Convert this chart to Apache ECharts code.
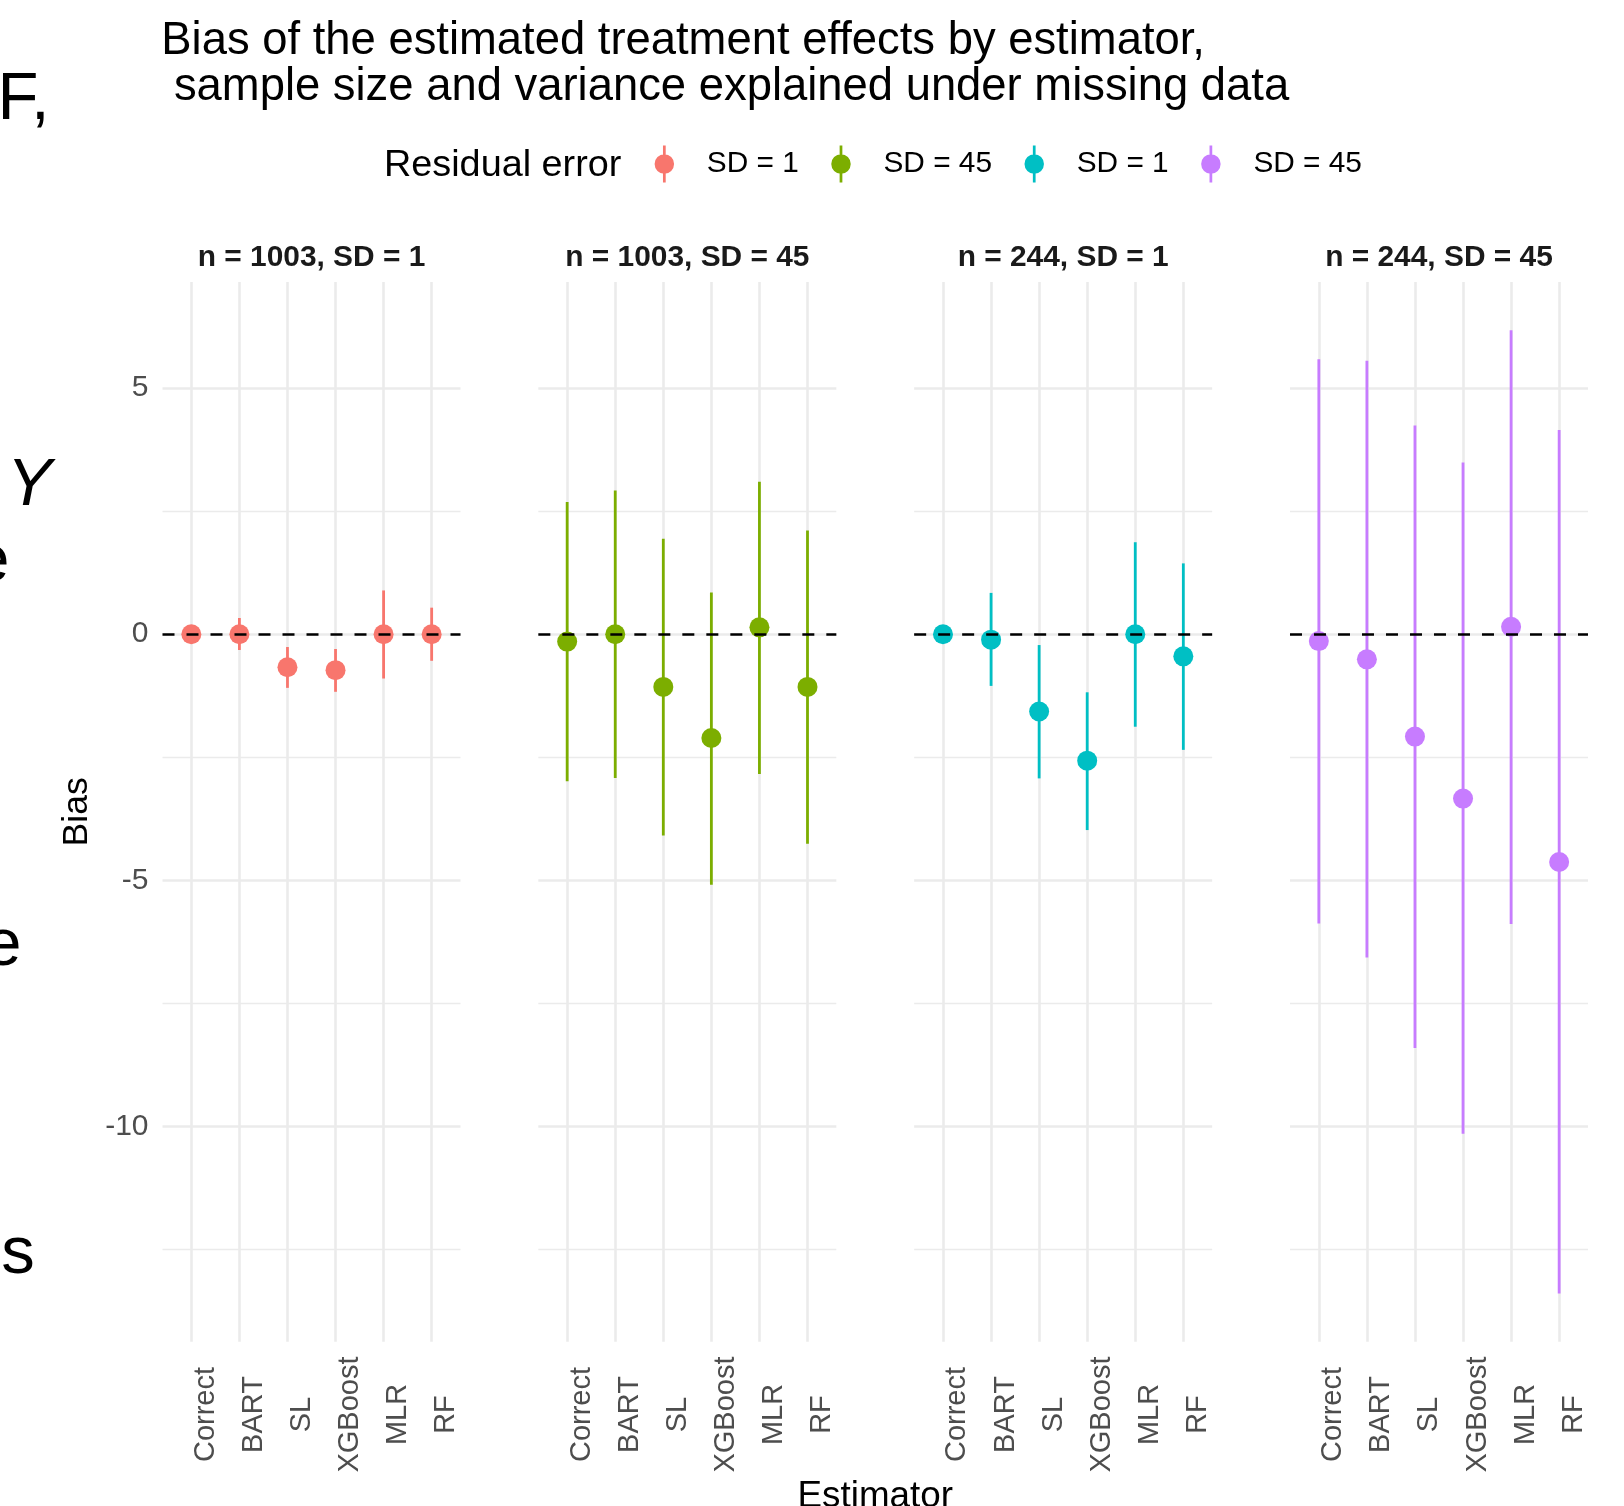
<!DOCTYPE html>
<html>
<head>
<meta charset="utf-8">
<script src="https://cdn.jsdelivr.net/npm/echarts@6/dist/echarts.min.js"></script>
<style>
html,body{margin:0;padding:0;background:#ffffff;}
#chart{width:1624px;height:1506px;}
</style>
</head>
<body>
<div id="chart"></div>
<script>
// ---------------- data ----------------
const estimators = ['Correct', 'BART', 'SL', 'XGBoost', 'MLR', 'RF'];
const panelTitles = ['n = 1003, SD = 1', 'n = 1003, SD = 45', 'n = 244, SD = 1', 'n = 244, SD = 45'];
const legendLabels = ['SD = 1', 'SD = 45', 'SD = 1', 'SD = 45'];
const legendTitle = 'Residual error';
const chartTitle = 'Bias of the estimated treatment effects by estimator,\n sample size and variance explained under missing data';
const xAxisTitle = 'Estimator';
const yAxisTitle = 'Bias';

const biasN1003Sd1  = [0.00, 0.00, -0.67, -0.73, 0.00, 0.00];
const lowerN1003Sd1 = [-0.03, -0.32, -1.09, -1.17, -0.90, -0.54];
const upperN1003Sd1 = [0.03, 0.33, -0.26, -0.30, 0.89, 0.54];

const biasN1003Sd45  = [-0.15, 0.00, -1.07, -2.11, 0.14, -1.07];
const lowerN1003Sd45 = [-2.99, -2.92, -4.09, -5.09, -2.84, -4.26];
const upperN1003Sd45 = [2.69, 2.92, 1.94, 0.85, 3.10, 2.11];

const biasN244Sd1  = [0.00, -0.11, -1.57, -2.57, 0.00, -0.45];
const lowerN244Sd1 = [-0.03, -1.05, -2.93, -3.98, -1.88, -2.35];
const upperN244Sd1 = [0.03, 0.84, -0.22, -1.18, 1.87, 1.44];

const biasN244Sd45  = [-0.14, -0.51, -2.08, -3.34, 0.15, -4.63];
const lowerN244Sd45 = [-5.88, -6.57, -8.41, -10.15, -5.89, -13.40];
const upperN244Sd45 = [5.59, 5.56, 4.24, 3.49, 6.18, 4.15];

const yTickValues = [-10, -5, 0, 5];
const yMinorValues = [-12.5, -7.5, -2.5, 2.5];
const referenceLine = 0;

// ---------------- styling / layout ----------------
const colors = ['#F8766D', '#7CAE00', '#00BFC4', '#C77CFF'];
const FONT = '"Liberation Sans", Arial, Helvetica, sans-serif';
const PANEL_LEFT0 = 162.5, PANEL_STEP = 375.83, PANEL_W = 298, PANEL_TOP = 282, PANEL_H = 1059.7;
const GRID_COLOR = '#EBEBEB';

const panels = [
  { bias: biasN1003Sd1, lower: lowerN1003Sd1, upper: upperN1003Sd1 },
  { bias: biasN1003Sd45, lower: lowerN1003Sd45, upper: upperN1003Sd45 },
  { bias: biasN244Sd1, lower: lowerN244Sd1, upper: upperN244Sd1 },
  { bias: biasN244Sd45, lower: lowerN244Sd45, upper: upperN244Sd45 }
];

// y range: data range expanded by 5% (ggplot default)
const allLow = Math.min.apply(null, panels.map(p => Math.min.apply(null, p.lower)));
const allHigh = Math.max.apply(null, panels.map(p => Math.max.apply(null, p.upper)));
const pad = 0.05 * (allHigh - allLow);
const yMin = allLow - pad, yMax = allHigh + pad;
// discrete x expansion (0.6 units each side)
const xMin = -0.6, xMax = estimators.length - 1 + 0.6;
const xIdx = estimators.map((_, i) => i);

const grids = [], xAxes = [], yAxes = [], series = [], graphics = [];

panels.forEach((p, i) => {
  const left = PANEL_LEFT0 + PANEL_STEP * i;
  grids.push({ left: left, top: PANEL_TOP, width: PANEL_W, height: PANEL_H, containLabel: false });
  xAxes.push({
    type: 'value', gridIndex: i, min: xMin, max: xMax,
    axisLine: { show: false }, axisTick: { show: false }, splitLine: { show: false },
    axisLabel: {
      customValues: xIdx,
      formatter: v => estimators[Math.round(v)],
      rotate: 90, align: 'center', verticalAlign: 'top', margin: 72.8,
      fontSize: 29, color: '#4D4D4D', fontFamily: FONT
    }
  });
  yAxes.push({
    type: 'value', gridIndex: i, min: yMin, max: yMax,
    axisLine: { show: false }, axisTick: { show: false }, splitLine: { show: false },
    axisLabel: {
      show: i === 0,
      customValues: yTickValues,
      margin: 14, fontSize: 30, color: '#4D4D4D', fontFamily: FONT
    }
  });

  const gridLines = []
    .concat(xIdx.map(v => ({ xAxis: v, lineStyle: { color: GRID_COLOR, width: 2.6, type: 'solid' } })))
    .concat(yTickValues.map(v => ({ yAxis: v, lineStyle: { color: GRID_COLOR, width: 2.6, type: 'solid' } })))
    .concat(yMinorValues.map(v => ({ yAxis: v, lineStyle: { color: GRID_COLOR, width: 1.4, type: 'solid' } })));

  // error bars (pointrange lines)
  series.push({
    type: 'custom', name: panelTitles[i] + ' interval',
    xAxisIndex: i, yAxisIndex: i, z: 2,
    itemStyle: { color: colors[i] },
    encode: { x: 0, y: [1, 2] },
    data: xIdx.map(k => [k, p.lower[k], p.upper[k]]),
    renderItem: function (params, api) {
      const x = api.value(0);
      const a = api.coord([x, api.value(1)]);
      const b = api.coord([x, api.value(2)]);
      return {
        type: 'line',
        shape: { x1: a[0], y1: a[1], x2: b[0], y2: b[1] },
        style: { stroke: api.visual('color'), lineWidth: 2.8 }
      };
    },
    markLine: {
      silent: true, symbol: 'none', z: 0, animation: false,
      label: { show: false },
      data: gridLines
    }
  });

  // points
  series.push({
    type: 'scatter', name: panelTitles[i],
    xAxisIndex: i, yAxisIndex: i, z: 3,
    symbol: 'circle', symbolSize: 20,
    itemStyle: { color: colors[i], opacity: 1 },
    data: xIdx.map(k => [k, p.bias[k]]),
    markLine: {
      silent: true, symbol: 'none', z: 10, animation: false,
      label: { show: false },
      lineStyle: { color: '#000000', width: 2.7, type: [12, 12] },
      data: [{ yAxis: referenceLine }]
    }
  });

  // facet strip label
  graphics.push({
    type: 'text', x: left + PANEL_W / 2, y: 257.7, silent: true,
    style: { text: panelTitles[i], align: 'center', verticalAlign: 'middle',
      fontSize: 29.9, fontWeight: 'bold', fontFamily: FONT, fill: '#1A1A1A' }
  });
});

// legend title
graphics.push({
  type: 'text', x: 384, y: 165.5, silent: true,
  style: { text: legendTitle, align: 'left', verticalAlign: 'middle', fontSize: 37.8, fontFamily: FONT, fill: '#000000' }
});
// axis titles
graphics.push({
  type: 'text', x: 77, y: PANEL_TOP + PANEL_H / 2, rotation: Math.PI / 2, silent: true,
  style: { text: yAxisTitle, align: 'center', verticalAlign: 'middle', fontSize: 35.5, fontFamily: FONT, fill: '#000000' }
});
graphics.push({
  type: 'text', x: PANEL_LEFT0 + (PANEL_STEP * 3 + PANEL_W) / 2, y: 1497, silent: true,
  style: { text: xAxisTitle, align: 'center', verticalAlign: 'middle', fontSize: 36.8, fontFamily: FONT, fill: '#000000' }
});
// fragments of neighbouring text cut at the left edge of the picture
const edgeFont = { fontSize: 67, fontFamily: FONT, fill: '#000000', verticalAlign: 'middle' };
graphics.push({ type: 'text', x: -2.5, y: 101, silent: true, style: Object.assign({ text: 'F,', align: 'left' }, edgeFont) });
graphics.push({ type: 'text', x: 7, y: 486, silent: true, style: Object.assign({ text: 'Y', align: 'left', fontStyle: 'italic' }, edgeFont) });
graphics.push({ type: 'text', x: 9.6, y: 563, silent: true, style: Object.assign({ text: 'e', align: 'right' }, edgeFont) });
graphics.push({ type: 'text', x: 21.6, y: 947, silent: true, style: Object.assign({ text: 'e', align: 'right' }, edgeFont) });
graphics.push({ type: 'text', x: 1.2, y: 1255, silent: true, style: Object.assign({ text: 's', align: 'left' }, edgeFont) });

const legendIcon = 'path://M8.6,0 L11.4,0 L11.4,38 L8.6,38 Z M0,19 A10,10 0 1 1 20,19 A10,10 0 1 1 0,19 Z';

const option = {
  backgroundColor: '#ffffff',
  animation: false,
  title: {
    text: chartTitle, left: 161.3, top: 18.9, padding: 0,
    textStyle: { fontSize: 45.4, lineHeight: 45.5, fontWeight: 'normal', color: '#000000', fontFamily: FONT }
  },
  legend: {
    data: panelTitles,
    formatter: name => legendLabels[panelTitles.indexOf(name)],
    icon: legendIcon,
    itemWidth: 75, itemHeight: 37, itemGap: 32.5,
    left: 654.6, top: 145.5, padding: 0,
    selectedMode: false,
    textStyle: { fontSize: 29.8, color: '#000000', fontFamily: FONT }
  },
  grid: grids,
  xAxis: xAxes,
  yAxis: yAxes,
  series: series,
  graphic: graphics
};

const chart = echarts.init(document.getElementById('chart'), null, { renderer: 'canvas' });
chart.setOption(option);
</script>
</body>
</html>
